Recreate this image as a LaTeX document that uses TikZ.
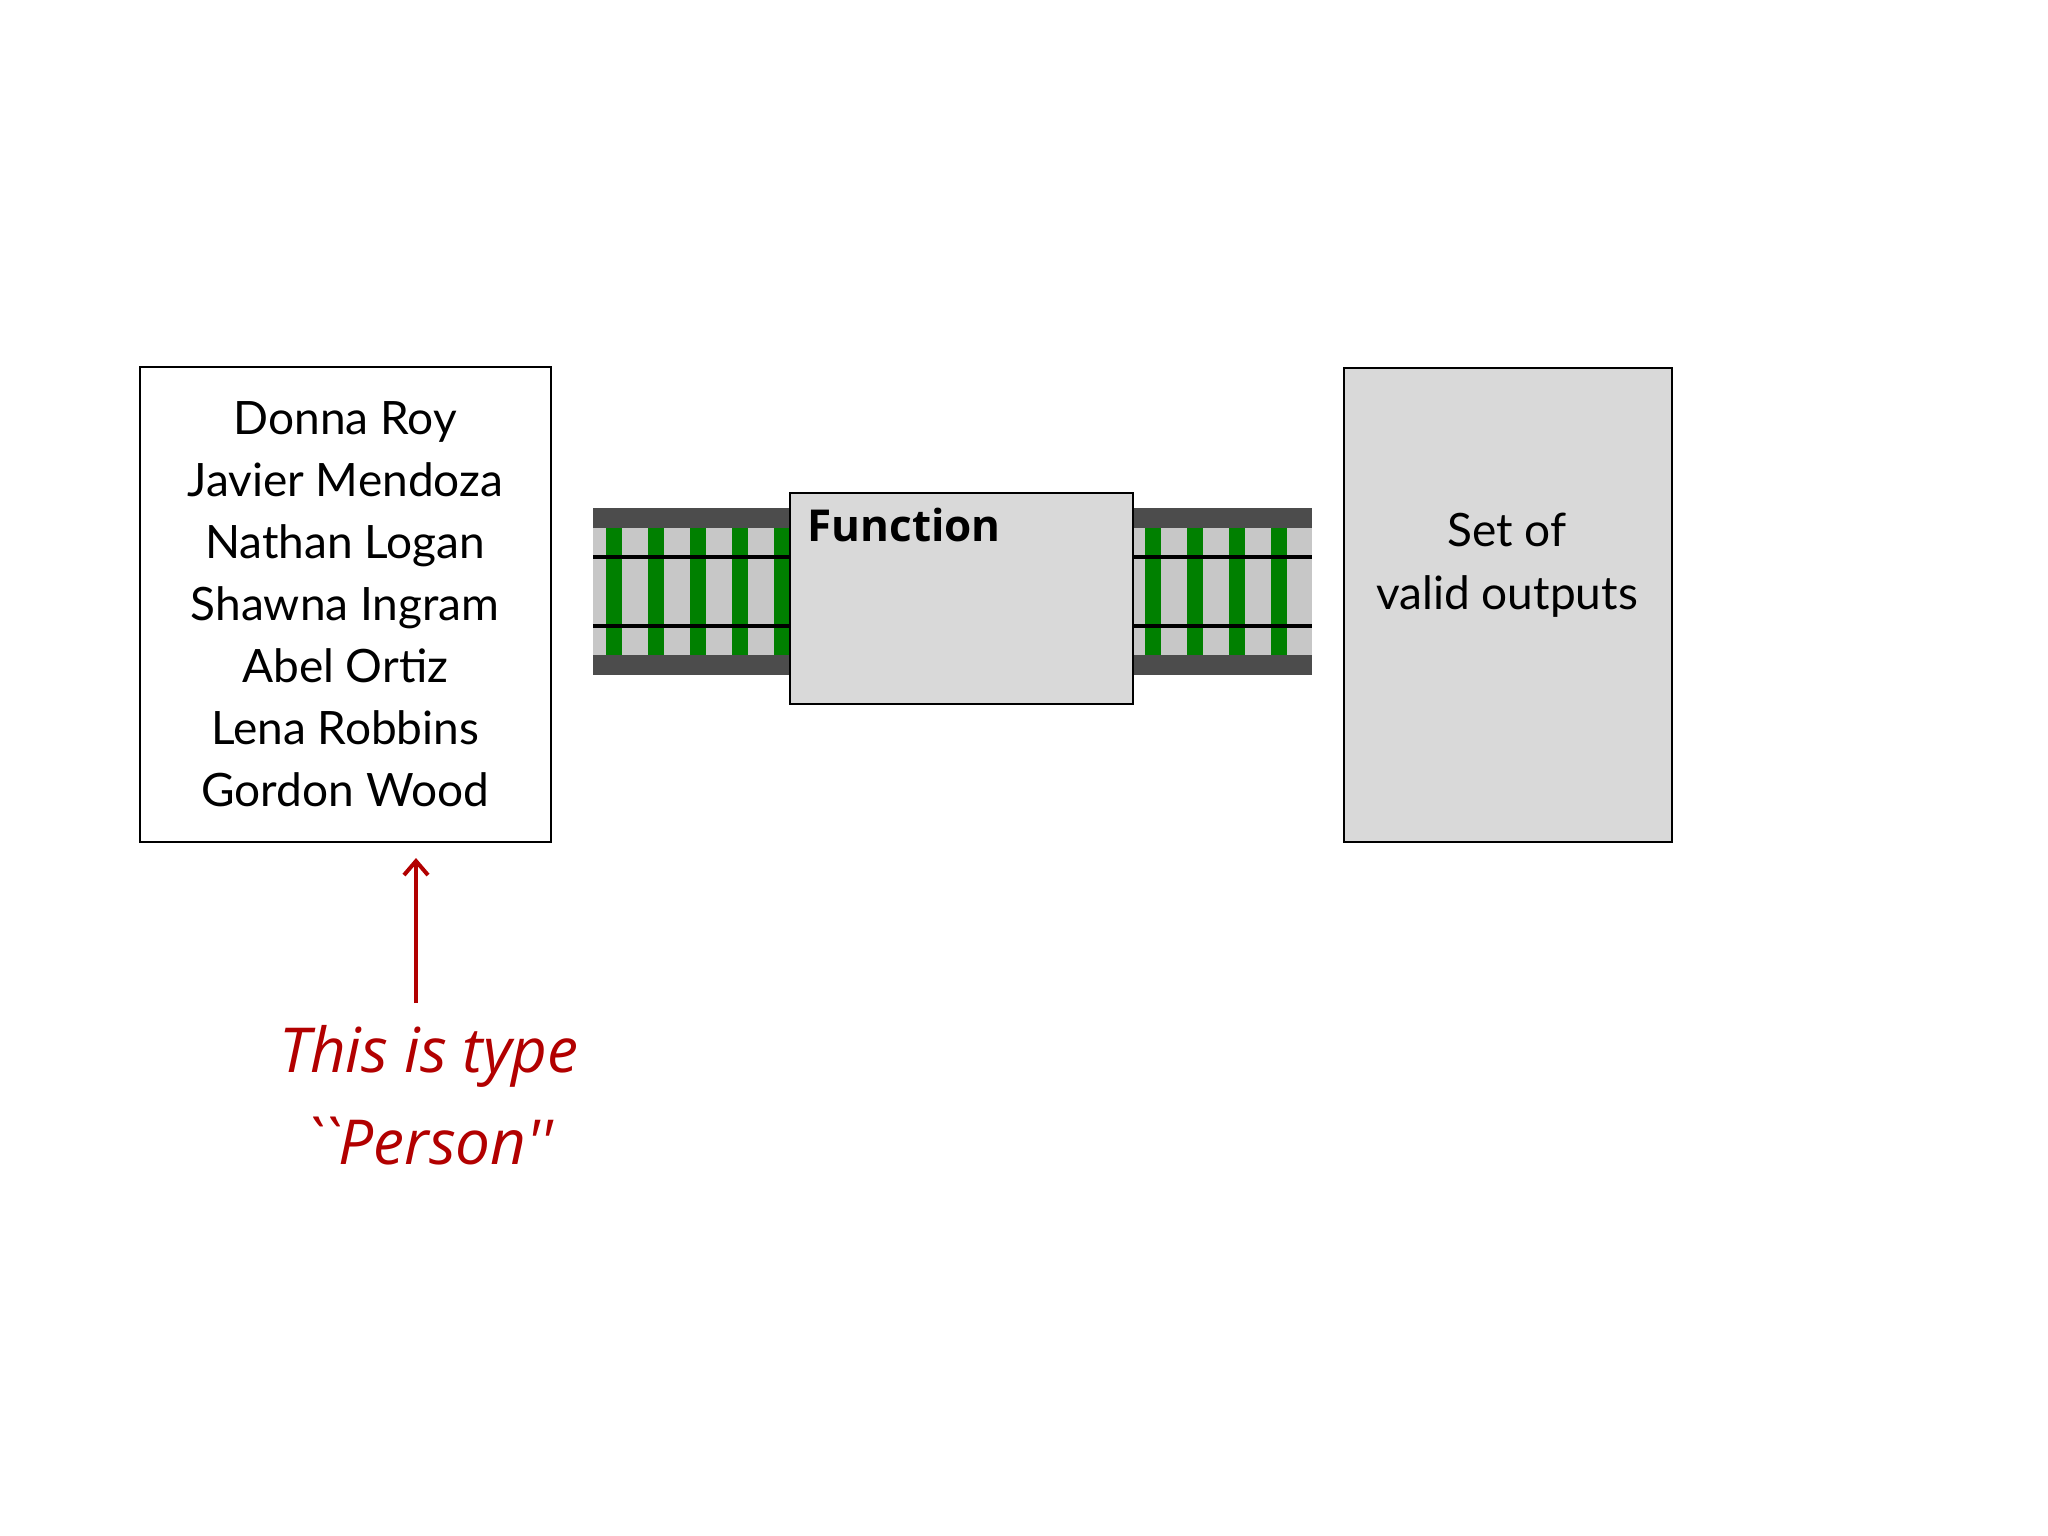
\documentclass[tikz,border=0pt]{standalone}
\usetikzlibrary{arrows.meta}
\usepackage{fontspec}
\setmainfont{Lato}
\newfontfamily\hand{Open Sans}
\begin{document}
\begin{tikzpicture}[x=1pt,y=-1pt,
  box/.style={draw=black,line width=1.5pt,anchor=north west,inner sep=0pt},
  tie/.style={fill=green!50!black}]
\useasboundingbox (0,0) rectangle (2048,1536);
\fill[white] (0,0) rectangle (2048,1536);
% tracks
\foreach \a/\b in {593/789,1132/1312}{
  \fill[black!70] (\a,508) rectangle (\b,675);
  \fill[black!22] (\a,528) rectangle (\b,655);
  \begin{scope}
  \clip (\a,528) rectangle (\b,655);
  \foreach \k in {0,...,5}{\fill[green!50!black] ({\a+13+42*\k},528) rectangle ({\a+29+42*\k},655);}
  \end{scope}
  \fill[black] (\a,555) rectangle (\b,559);
  \fill[black] (\a,624) rectangle (\b,628);
}
\node[box,minimum width=411pt,minimum height=475pt] (in) at (139,366) {};
\node[align=center,font=\fontsize{46}{62}\selectfont] (names) at (in.center) {Donna Roy\\Javier Mendoza\\Nathan Logan\\Shawna Ingram\\Abel Ortiz\\Lena Robbins\\Gordon Wood};
\node[box,fill=black!15,minimum width=343pt,minimum height=211pt] (fn) at (789,492) {};
\node[anchor=north west,font=\fontsize{44}{52}\selectfont] (fnl) at (804,505) {\hand\bfseries Function};
\node[box,fill=black!15,minimum width=328pt,minimum height=474pt] (out) at (1343,367) {};
\node[align=center,font=\fontsize{46}{63}\selectfont] (outl) at (1507,565) {Set of\\valid outputs};
\coordinate (tail) at (416,1003);
\coordinate (head) at (416,858);
\draw[red!70!black,line width=4pt,-{Straight Barb[length=14pt,width=24pt]}] (tail) -- (head);
\node[align=center,text=red!70!black,font=\fontsize{62}{92}\selectfont\hand\itshape] (lab) at (429,1095) {This is type\\``Person''};
\end{tikzpicture}
\end{document}
